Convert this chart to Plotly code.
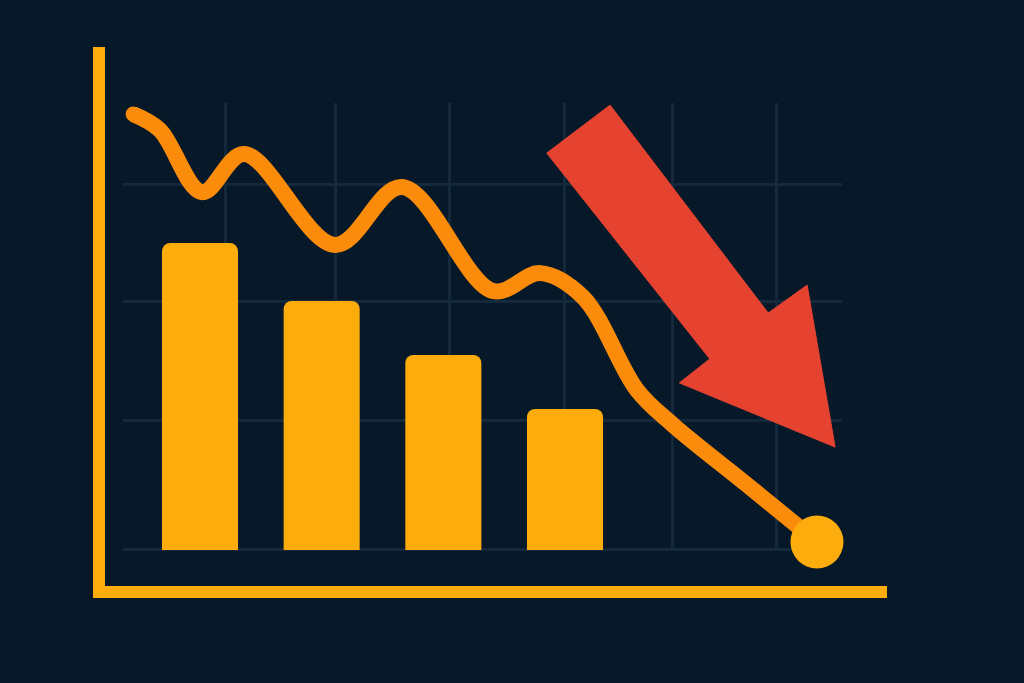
import plotly.graph_objects as go

# bar chart values (four periods, falling)
bar_x = [1, 2, 3, 4]
bar_values = [102.3, 83.0, 65.0, 47.0]

# wavy trend line
trend_x = [0.45, 0.67, 1.016, 1.362, 2.11, 2.66, 3.408, 3.794, 4.148, 4.592, 4.888, 5.479, 6.071]
trend_y = [145.3, 140.0, 119.3, 132.0, 101.7, 121.0, 86.3, 92.3, 84.3, 53.3, 41.7, 22.3, 2.7]

# big red "down" arrow outline
arrow_x = [3.85, 4.37, 5.67, 5.99, 6.22, 4.94, 5.19, 3.85]
arrow_y = [132.3, 148.3, 79.0, 88.3, 34.3, 55.7, 63.7, 132.3]

# background grid positions
grid_x = [1.21, 2.11, 3.05, 4.00, 4.88, 5.74]
grid_y = [0, 43.3, 82.7, 122.0]

BG = "#071828"
GRID = "#15293d"
AMBER = "#FDAC0D"
ORANGE = "#FB8B0B"
RED = "#E54330"

fig = go.Figure()

# empty trace so the grid-only subplot gets drawn underneath
fig.add_trace(go.Scatter(x=[], y=[], xaxis="x", yaxis="y", hoverinfo="skip"))

fig.add_trace(go.Bar(
    x=bar_x, y=bar_values, width=0.625,
    marker=dict(color=AMBER, cornerradius=8, line_width=0),
    xaxis="x2", yaxis="y2", hoverinfo="skip",
))
fig.add_trace(go.Scatter(
    x=trend_x, y=trend_y, mode="lines+markers",
    line=dict(color=ORANGE, width=16, shape="spline", smoothing=1.0),
    marker=dict(color=ORANGE, size=15),
    xaxis="x2", yaxis="y2", hoverinfo="skip",
))
fig.add_trace(go.Scatter(
    x=[trend_x[-1]], y=[trend_y[-1]], mode="markers",
    marker=dict(color=AMBER, size=53, line_width=0),
    xaxis="x2", yaxis="y2", hoverinfo="skip", cliponaxis=False,
))
fig.add_trace(go.Scatter(
    x=arrow_x, y=arrow_y, mode="lines", fill="toself",
    fillcolor=RED, line=dict(color=RED, width=1),
    xaxis="x2", yaxis="y2", hoverinfo="skip",
))

fig.update_layout(
    width=1024, height=683,
    margin=dict(l=105, r=137, t=47, b=97),
    paper_bgcolor=BG, plot_bgcolor="rgba(0,0,0,0)",
    showlegend=False,
    # grid-only subplot
    xaxis=dict(domain=[0.023, 0.9425], range=[0.367, 6.277], tickvals=grid_x,
               showgrid=True, gridcolor=GRID, gridwidth=3, zeroline=False,
               showticklabels=False, ticks="", showline=False, fixedrange=True),
    yaxis=dict(domain=[0.0668, 0.8961], range=[0, 149], tickvals=grid_y,
               showgrid=True, gridcolor=GRID, gridwidth=3,
               zeroline=True, zerolinecolor=GRID, zerolinewidth=3,
               showticklabels=False, ticks="", showline=False, fixedrange=True),
    # data subplot with the L-shaped axis lines
    xaxis2=dict(domain=[0, 1], anchor="y2", range=[0.2192, 6.6465],
                showgrid=False, zeroline=False, showticklabels=False, ticks="",
                showline=True, linecolor=AMBER, linewidth=12, fixedrange=True),
    yaxis2=dict(domain=[0, 1], anchor="x2", range=[-12, 167.67],
                showgrid=False, zeroline=False, showticklabels=False, ticks="",
                showline=True, linecolor=AMBER, linewidth=12, fixedrange=True),
)

fig.write_html(
    "out.html",
    config={"displayModeBar": False},
    post_script="document.body.style.margin='0';document.body.style.overflow='hidden';",
)
